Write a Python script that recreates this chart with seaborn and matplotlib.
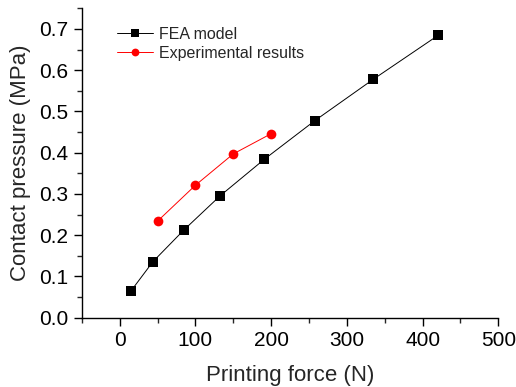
import matplotlib
matplotlib.use("Agg")
import matplotlib.pyplot as plt
from matplotlib.ticker import MultipleLocator, FormatStrFormatter
import pandas as pd
import seaborn as sns

# Contact pressure versus printing force
fea_force = [15, 44, 85, 133, 191, 258, 335, 421]
fea_pressure = [0.065, 0.136, 0.213, 0.296, 0.384, 0.478, 0.578, 0.685]
exp_force = [50, 100, 150, 200]
exp_pressure = [0.234, 0.321, 0.397, 0.446]

sns.set_style("ticks")
plt.rcParams["font.family"] = ["Liberation Sans", "DejaVu Sans"]
plt.rcParams["xtick.direction"] = "out"
plt.rcParams["ytick.direction"] = "out"

fea = pd.DataFrame({"force": fea_force, "pressure": fea_pressure})
exp = pd.DataFrame({"force": exp_force, "pressure": exp_pressure})

fig = plt.figure(figsize=(5.16, 3.87), dpi=100)
ax = fig.add_axes([0.1585, 0.179, 0.8072, 0.7996])

sns.lineplot(data=fea, x="force", y="pressure", ax=ax, color="black",
             marker="s", markersize=6.5, markeredgewidth=0, linewidth=0.7,
             label="FEA model")
sns.lineplot(data=exp, x="force", y="pressure", ax=ax, color="red",
             marker="o", markersize=7, markeredgewidth=0, linewidth=0.7,
             label="Experimental results")

ax.set_xlim(-50, 500)
ax.set_ylim(0, 0.75)
ax.xaxis.set_major_locator(MultipleLocator(100))
ax.xaxis.set_minor_locator(MultipleLocator(50))
ax.yaxis.set_major_locator(MultipleLocator(0.1))
ax.yaxis.set_minor_locator(MultipleLocator(0.05))
ax.yaxis.set_major_formatter(FormatStrFormatter("%.1f"))

ax.tick_params(which="major", length=6, width=1.0, pad=3.5, labelsize=15,
               colors="black")
ax.tick_params(which="minor", length=3.5, width=1.0)
for s in ["left", "bottom"]:
    ax.spines[s].set_linewidth(1.0)
    ax.spines[s].set_color("black")
sns.despine(ax=ax)

ax.set_xlabel("Printing force (N)", fontsize=16, labelpad=10.5)
ax.set_ylabel("Contact pressure (MPa)", fontsize=16, labelpad=6)

ax.legend(loc="upper left", bbox_to_anchor=(0.0845, 0.94), frameon=False,
          fontsize=11.5, handlelength=2.25, handletextpad=0.4,
          labelspacing=0.25, borderpad=0, borderaxespad=0, markerscale=0.8)

fig.savefig("out.png", dpi=100)
